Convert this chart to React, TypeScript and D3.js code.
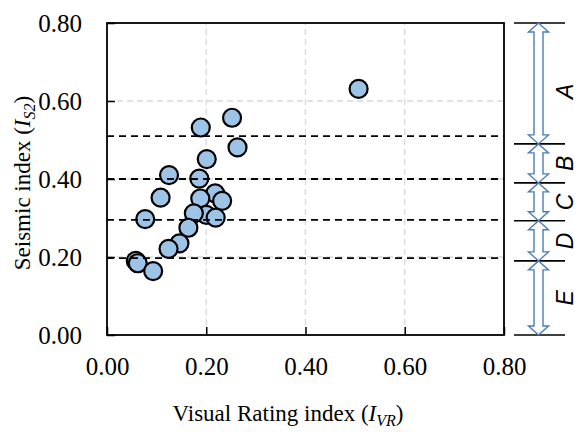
import React, { useEffect, useRef } from 'react';
import * as d3 from 'd3';

// points: [I_VR, I_S2]
const visualIndex = [0.252, 0.189, 0.263, 0.201, 0.125, 0.186, 0.108, 0.218, 0.232, 0.188, 0.200, 0.175, 0.219, 0.077, 0.164, 0.146, 0.124, 0.058, 0.062, 0.093, 0.507];
const seismicIndex = [0.557, 0.532, 0.481, 0.451, 0.410, 0.401, 0.352, 0.363, 0.344, 0.350, 0.308, 0.312, 0.301, 0.297, 0.275, 0.235, 0.221, 0.190, 0.184, 0.164, 0.631];

const tickValues = [0, 0.2, 0.4, 0.6, 0.8];
const gridValues = [0.2, 0.4, 0.6];
const thresholds = [0.51, 0.40, 0.295, 0.197];

// class bands on the right (upper bound, lower bound)
const classNames = ['A', 'B', 'C', 'D', 'E'];
const classBounds = [0.8, 0.49, 0.39, 0.293, 0.19, 0];

const W = 579, H = 432;
const margin = { top: 23, right: 75, bottom: 97, left: 107 };

export default function App() {
  const ref = useRef<SVGSVGElement>(null);

  useEffect(() => {
    const svg = d3.select(ref.current);
    svg.selectAll('*').remove();

    const x = d3.scaleLinear().domain([0, 0.8]).range([margin.left, W - margin.right]);
    const y = d3.scaleLinear().domain([0, 0.8]).range([H - margin.bottom, margin.top]);
    const serif = "'Liberation Serif', 'Times New Roman', serif";

    // grid
    svg.append('g').selectAll('line.gx').data(gridValues).enter().append('line')
      .attr('x1', d => x(d)).attr('x2', d => x(d))
      .attr('y1', y(0)).attr('y2', y(0.8))
      .attr('stroke', '#d9d9d9').attr('stroke-width', 1.3).attr('stroke-dasharray', '6,4');
    svg.append('g').selectAll('line.gy').data(gridValues).enter().append('line')
      .attr('x1', x(0)).attr('x2', x(0.8))
      .attr('y1', d => y(d)).attr('y2', d => y(d))
      .attr('stroke', '#d9d9d9').attr('stroke-width', 1.3).attr('stroke-dasharray', '6,4');

    // points
    const pts = d3.zip(visualIndex, seismicIndex);
    svg.append('g').selectAll('circle').data(pts).enter().append('circle')
      .attr('cx', d => x(d[0])).attr('cy', d => y(d[1]))
      .attr('r', 9)
      .attr('fill', '#9dc3e6').attr('stroke', '#000').attr('stroke-width', 2.2);

    // threshold lines, drawn over the points
    svg.append('g').selectAll('line').data(thresholds).enter().append('line')
      .attr('x1', x(0)).attr('x2', x(0.8))
      .attr('y1', d => y(d)).attr('y2', d => y(d))
      .attr('stroke', '#000').attr('stroke-width', 1.8).attr('stroke-dasharray', '7,5');

    // axes
    const xAxis = svg.append('g').attr('transform', `translate(0,${y(0)})`)
      .call(d3.axisBottom(x).tickValues(tickValues).tickSizeInner(-8).tickSizeOuter(0)
        .tickPadding(22).tickFormat(d3.format('.2f')));
    const yAxis = svg.append('g').attr('transform', `translate(${x(0)},0)`)
      .call(d3.axisLeft(y).tickValues(tickValues).tickSizeInner(-8).tickSizeOuter(0)
        .tickPadding(25).tickFormat(d3.format('.2f')));
    [xAxis, yAxis].forEach(a => {
      a.attr('font-family', null).attr('font-size', null);
      a.select('.domain').remove();
      a.selectAll('line').attr('stroke', '#000').attr('stroke-width', 1.5);
      a.selectAll('text').style('font-family', serif).style('font-size', '25px').attr('fill', '#000');
    });

    // frame
    svg.append('rect')
      .attr('x', x(0)).attr('y', y(0.8))
      .attr('width', x(0.8) - x(0)).attr('height', y(0) - y(0.8))
      .attr('fill', 'none').attr('stroke', '#000').attr('stroke-width', 1.8);

    // axis titles
    const xt = svg.append('text').attr('x', 288).attr('y', 421)
      .attr('text-anchor', 'middle').style('font-family', serif).style('font-size', '23px');
    xt.append('tspan').text('Visual Rating index (');
    xt.append('tspan').attr('font-style', 'italic').text('I');
    xt.append('tspan').attr('font-style', 'italic').style('font-size', '16px').attr('dy', 5).text('VR');
    xt.append('tspan').attr('dy', -5).text(')');

    const yt = svg.append('text').attr('transform', 'translate(30,183) rotate(-90)')
      .attr('text-anchor', 'middle').style('font-family', serif).style('font-size', '23px');
    yt.append('tspan').text('Seismic index (');
    yt.append('tspan').attr('font-style', 'italic').text('I');
    yt.append('tspan').attr('font-style', 'italic').style('font-size', '16px').attr('dy', 5).text('S2');
    yt.append('tspan').attr('dy', -5).text(')');

    // class bands
    const cx = 538.5, lx1 = 514, lx2 = 565;
    svg.append('g').selectAll('line').data(classBounds).enter().append('line')
      .attr('x1', lx1).attr('x2', lx2)
      .attr('y1', d => y(d)).attr('y2', d => y(d))
      .attr('stroke', '#000').attr('stroke-width', 1.6);

    const bands = classNames.map((n, i) => ({ name: n, hi: classBounds[i], lo: classBounds[i + 1] }));
    const hw = 10, sw = 4.5, hl = 9;
    const arrow = (y1: number, y2: number) => {
      const p = d3.path();
      p.moveTo(cx, y1);
      p.lineTo(cx + hw, y1 + hl); p.lineTo(cx + sw, y1 + hl);
      p.lineTo(cx + sw, y2 - hl); p.lineTo(cx + hw, y2 - hl);
      p.lineTo(cx, y2);
      p.lineTo(cx - hw, y2 - hl); p.lineTo(cx - sw, y2 - hl);
      p.lineTo(cx - sw, y1 + hl); p.lineTo(cx - hw, y1 + hl);
      p.closePath();
      return p.toString();
    };
    svg.append('g').selectAll('path').data(bands).enter().append('path')
      .attr('d', d => arrow(y(d.hi), y(d.lo)))
      .attr('fill', '#fff').attr('stroke', '#4a7eb5').attr('stroke-width', 1.4)
      .attr('stroke-linejoin', 'miter');

    svg.append('g').selectAll('text').data(bands).enter().append('text')
      .attr('transform', d => `translate(573,${(y(d.hi) + y(d.lo)) / 2 + (d.name === 'A' ? 8 : 0)}) rotate(-90)`)
      .attr('text-anchor', 'middle')
      .style('font-family', "'Liberation Sans', Arial, sans-serif")
      .attr('font-style', 'italic').style('font-size', '23px').attr('fill', '#000')
      .text(d => d.name);
  }, []);

  return (
    <svg ref={ref} width={W} height={H}
      style={{ position: 'absolute', left: 0, top: 0, background: '#fff' }} />
  );
}
